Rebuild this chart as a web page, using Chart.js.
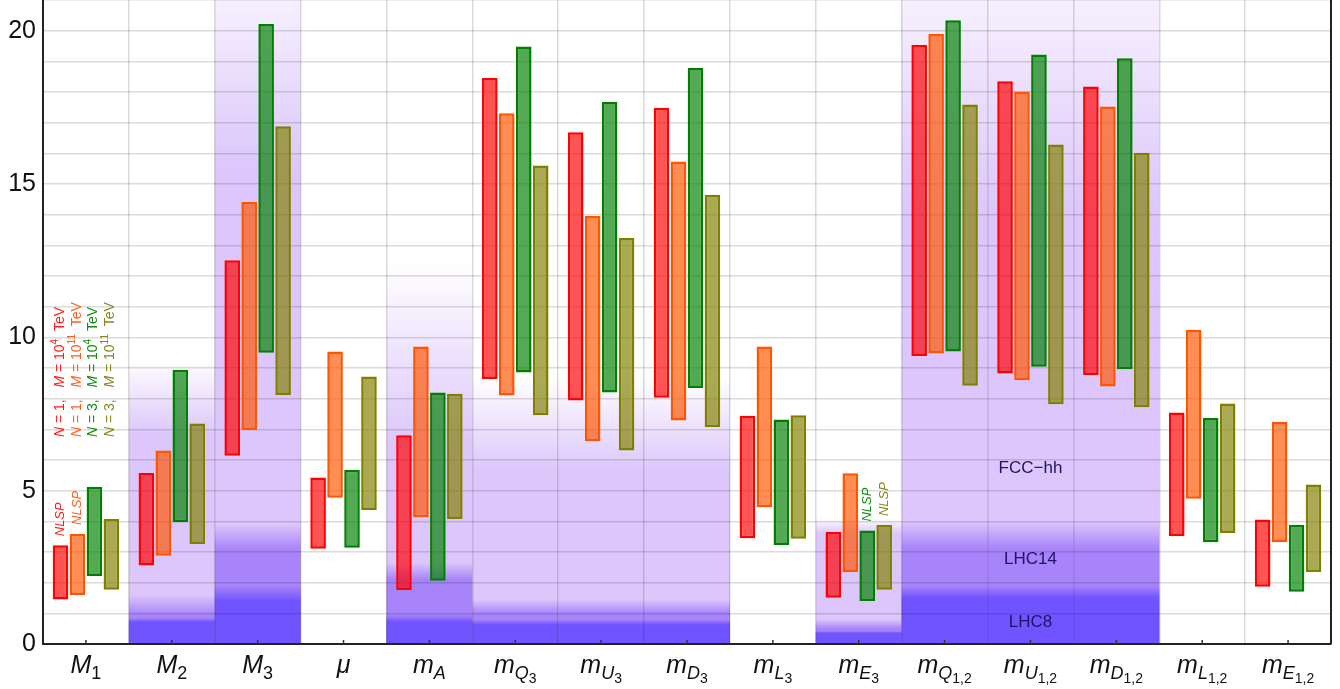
<!DOCTYPE html>
<html>
<head>
<meta charset="utf-8">
<script src="https://cdn.jsdelivr.net/npm/chart.js@4.4.1/dist/chart.umd.min.js"></script>
<style>
  html, body { margin: 0; padding: 0; background: #fff; }
  canvas { display: block; }
</style>
</head>
<body>
<canvas id="chart" width="1340" height="689"></canvas>
<script>
// categories: "_" marks a subscript level
const categories = ['M_1', 'M_2', 'M_3', 'μ', 'm_A', 'm_Q_3', 'm_U_3', 'm_D_3', 'm_L_3', 'm_E_3',
    'm_Q_1,2', 'm_U_1,2', 'm_D_1,2', 'm_L_1,2', 'm_E_1,2'];

// mass ranges (TeV) for each scenario
const redLow     = [1.45, 2.56, 6.14, 3.11, 1.76, 8.64, 7.94, 8.03, 3.45, 1.51, 9.39, 8.82, 8.77, 3.52, 1.87];
const redHigh    = [3.22, 5.58, 12.51, 5.43, 6.81, 18.46, 16.69, 17.49, 7.44, 3.65, 19.53, 18.35, 18.18, 7.55, 4.06];
const orangeLow  = [1.60, 2.88, 6.98, 4.77, 4.13, 8.10, 6.61, 7.29, 4.46, 2.35, 9.47, 8.60, 8.40, 4.74, 3.33];
const orangeHigh = [3.59, 6.31, 14.41, 9.54, 9.70, 17.31, 13.96, 15.73, 9.70, 5.57, 19.89, 18.02, 17.53, 10.24, 7.24];
const greenLow   = [2.22, 3.97, 9.50, 3.14, 2.06, 8.85, 8.20, 8.35, 3.23, 1.40, 9.54, 9.04, 8.96, 3.32, 1.70];
const greenHigh  = [5.13, 8.94, 20.22, 5.68, 8.20, 19.48, 17.67, 18.78, 7.32, 3.70, 20.34, 19.22, 19.10, 7.37, 3.89];
const oliveLow   = [1.77, 3.26, 8.12, 4.37, 4.08, 7.46, 6.31, 7.07, 3.43, 1.77, 8.42, 7.82, 7.72, 3.62, 2.35];
const oliveHigh  = [4.08, 7.19, 16.88, 8.72, 8.16, 15.60, 13.24, 14.65, 7.46, 3.88, 17.59, 16.29, 16.02, 7.84, 5.20];

// collider reach: solid up to *Solid, fading out up to *Fade (null = no reach)
const fccSolid   = [null, 6.8, 15.4, null, 6.4, 5.6, 5.6, 5.6, null, 3.6, 14.0, 14.0, 14.0, null, null];
const fccFade    = [null, 9.3, 23.0, null, 12.5, 8.7, 8.7, 8.7, null, 4.1, 23.5, 23.5, 23.5, null, null];
const lhc14Solid = [null, 0.95, 3.1, null, 2.1, 1.0, 1.0, 1.0, null, 0.5, 3.1, 3.1, 3.1, null, null];
const lhc14Fade  = [null, 1.6, 3.9, null, 2.65, 1.45, 1.45, 1.45, null, 0.8, 4.0, 4.0, 4.0, null, null];
const lhc8Solid  = [null, 0.72, 1.4, null, 0.72, 0.62, 0.62, 0.62, null, 0.36, 1.5, 1.5, 1.5, null, null];
const lhc8Fade   = [null, 0.85, 1.9, null, 0.95, 0.8, 0.8, 0.8, null, 0.42, 1.9, 1.9, 1.9, null, null];

const colliderLabels = ['FCC−hh', 'LHC14', 'LHC8'];
const colliderLabelValues = [5.59, 2.61, 0.56];
const colliderLabelCategory = 11;

const legendN = [1, 1, 3, 3];
const legendExp = ['4', '11', '4', '11'];
// [series, category] pairs that carry an NLSP note
const nlspMarks = [[0, 0], [1, 0], [2, 9], [3, 9]];

const borderColors = ['#ff0000', '#ff5500', '#008000', '#808000'];
const fillColors = ['rgba(255,0,0,0.67)', 'rgba(255,85,0,0.67)', 'rgba(0,128,0,0.67)', 'rgba(128,128,0,0.67)'];
const textColors = ['#ff1a1a', '#ff5e1a', '#138a13', '#86861a'];

const FONT = '"Liberation Sans", Arial, sans-serif';

const bandLayers = [
    { solid: fccSolid, fade: fccFade, rgb: '220,198,251' },
    { solid: lhc14Solid, fade: lhc14Fade, rgb: '168,132,250' },
    { solid: lhc8Solid, fade: lhc8Fade, rgb: '112,84,255' }
];

const reachBands = {
    id: 'reachBands',
    beforeDraw(chart) {
        const { ctx, chartArea, scales: { x, y } } = chart;
        ctx.save();
        ctx.beginPath();
        ctx.rect(chartArea.left, chartArea.top, chartArea.width, chartArea.height);
        ctx.clip();
        const y0 = y.getPixelForValue(0);
        bandLayers.forEach(layer => {
            categories.forEach((c, i) => {
                if (layer.solid[i] == null) return;
                const left = x.getPixelForValue(i - 0.5);
                const right = x.getPixelForValue(i + 0.5);
                const ys = y.getPixelForValue(layer.solid[i]);
                const yf = y.getPixelForValue(layer.fade[i]);
                const g = ctx.createLinearGradient(0, y0, 0, yf);
                const t = (y0 - ys) / (y0 - yf);
                g.addColorStop(0, `rgba(${layer.rgb},1)`);
                g.addColorStop(t, `rgba(${layer.rgb},1)`);
                g.addColorStop(1, `rgba(${layer.rgb},0)`);
                ctx.fillStyle = g;
                ctx.fillRect(left, yf, right - left, y0 - yf);
            });
        });
        ctx.restore();
    }
};

function runsWidth(ctx, runs) {
    return runs.reduce((w, r) => { ctx.font = r.font; return w + ctx.measureText(r.text).width; }, 0);
}

function drawRuns(ctx, runs, x, y) {
    let cx = x;
    runs.forEach(r => {
        ctx.font = r.font;
        ctx.fillText(r.text, cx, y + (r.dy || 0));
        cx += ctx.measureText(r.text).width;
    });
}

function labelRuns(label) {
    const parts = label.split('_');
    const runs = [{ text: parts[0], font: `italic 25px ${FONT}` }];
    if (parts[1]) {
        const upright = /^[0-9,]+$/.test(parts[1]);
        runs.push({ text: parts[1], font: `${upright ? '' : 'italic '}18px ${FONT}`, dy: 6 });
    }
    if (parts[2]) runs.push({ text: parts[2], font: `14px ${FONT}`, dy: 10 });
    return runs;
}

const annotations = {
    id: 'annotations',
    afterDraw(chart) {
        const { ctx, chartArea, scales: { x, y } } = chart;
        ctx.save();

        // frame on the right, small ticks at category centres
        ctx.strokeStyle = '#222';
        ctx.lineWidth = 2;
        ctx.beginPath();
        ctx.moveTo(chartArea.right, chartArea.top);
        ctx.lineTo(chartArea.right, chartArea.bottom);
        ctx.stroke();
        ctx.lineWidth = 1.5;
        ctx.strokeStyle = '#333';
        categories.forEach((c, i) => {
            const px = x.getPixelForValue(i);
            ctx.beginPath();
            ctx.moveTo(px, chartArea.bottom);
            ctx.lineTo(px, chartArea.bottom - 4);
            ctx.stroke();
        });

        // x labels with subscripts
        ctx.fillStyle = '#111';
        ctx.textAlign = 'left';
        ctx.textBaseline = 'alphabetic';
        categories.forEach((c, i) => {
            const runs = labelRuns(c);
            const w = runsWidth(ctx, runs);
            drawRuns(ctx, runs, x.getPixelForValue(i) - w / 2, chartArea.bottom + 29);
        });

        // collider labels
        ctx.fillStyle = '#1e1464';
        ctx.textAlign = 'center';
        ctx.font = `17px ${FONT}`;
        colliderLabels.forEach((t, k) => {
            ctx.fillText(t, x.getPixelForValue(colliderLabelCategory), y.getPixelForValue(colliderLabelValues[k]));
        });

        // rotated scenario legend
        ctx.textAlign = 'left';
        legendN.forEach((n, k) => {
            ctx.save();
            ctx.translate(chartArea.left + 21 + k * 16.7, y.getPixelForValue(6.75));
            ctx.rotate(-Math.PI / 2);
            ctx.fillStyle = textColors[k];
            const f = `14px ${FONT}`, fi = `italic 14px ${FONT}`;
            drawRuns(ctx, [
                { text: 'N', font: fi },
                { text: ' = ' + n + ',   ', font: f },
                { text: 'M', font: fi },
                { text: ' = 10', font: f },
                { text: legendExp[k], font: `10px ${FONT}`, dy: -6 },
                { text: '  TeV', font: f }
            ], 0, 0);
            ctx.restore();
        });

        // NLSP notes above bars
        nlspMarks.forEach(([s, c]) => {
            const el = chart.getDatasetMeta(s).data[c];
            const top = Math.min(el.y, el.base);
            ctx.save();
            ctx.translate(el.x + 4, top - 9);
            ctx.rotate(-Math.PI / 2);
            ctx.fillStyle = textColors[s];
            ctx.font = `italic 13px ${FONT}`;
            ctx.fillText('NLSP', 0, 0);
            ctx.restore();
        });

        ctx.restore();
    }
};

const lows = [redLow, orangeLow, greenLow, oliveLow];
const highs = [redHigh, orangeHigh, greenHigh, oliveHigh];

const datasets = lows.map((low, k) => ({
    label: 'N = ' + legendN[k] + ', M = 10^' + legendExp[k] + ' TeV',
    data: low.map((v, i) => [v, highs[k][i]]),
    backgroundColor: fillColors[k],
    borderColor: borderColors[k],
    borderWidth: 2.5,
    borderSkipped: false,
    categoryPercentage: 0.79,
    barPercentage: 0.92
}));

new Chart(document.getElementById('chart').getContext('2d'), {
    type: 'bar',
    data: { labels: categories, datasets },
    plugins: [reachBands, annotations],
    options: {
        responsive: false,
        animation: false,
        devicePixelRatio: 1,
        layout: { padding: { left: 0, right: 9, top: 0, bottom: 0 } },
        plugins: { legend: { display: false }, tooltip: { enabled: false } },
        scales: {
            x: {
                ticks: { display: false },
                grid: { color: 'rgba(0,0,0,0.14)', lineWidth: 1.5, drawTicks: false, offset: true },
                border: { display: true, color: '#222', width: 2 },
                afterFit(scale) {
                    scale.height = 45;
                    scale.paddingLeft = 0;
                    scale.paddingRight = 0;
                }
            },
            y: {
                min: 0,
                max: 21,
                ticks: {
                    stepSize: 1,
                    autoSkip: false,
                    padding: 7,
                    color: '#111',
                    font: { family: FONT, size: 25 },
                    callback: v => (v % 5 === 0 ? v : '')
                },
                grid: { color: 'rgba(0,0,0,0.14)', lineWidth: 1.5, drawTicks: false },
                border: { display: true, color: '#222', width: 2 },
                afterFit(scale) {
                    scale.width = 43;
                    scale.paddingTop = 0;
                    scale.paddingBottom = 0;
                }
            }
        }
    }
});
</script>
</body>
</html>
